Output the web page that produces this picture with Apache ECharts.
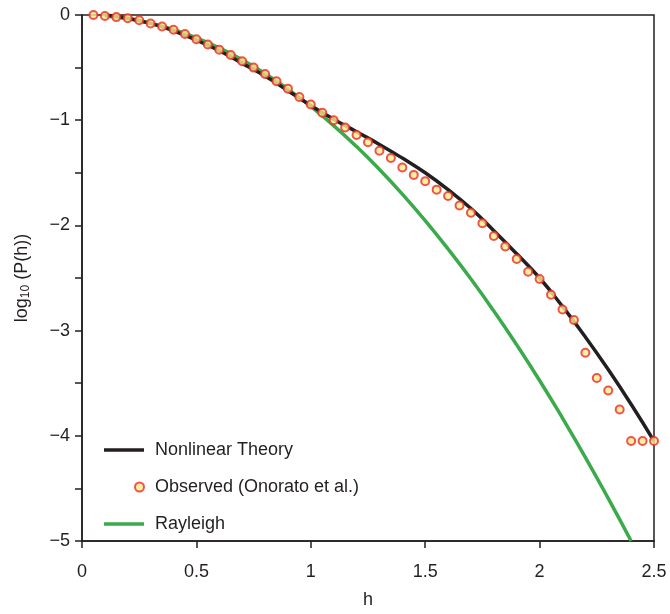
<!DOCTYPE html>
<html><head><meta charset="utf-8">
<script src="https://cdn.jsdelivr.net/npm/echarts@6/dist/echarts.min.js"></script>
<style>html,body{margin:0;padding:0;background:#fff}#c{width:670px;height:614px}</style>
</head><body><div id="c"></div>
<script>
const obsH = [0.05,0.10,0.15,0.20,0.25,0.30,0.35,0.40,0.45,0.50,0.55,0.60,0.65,0.70,0.75,0.80,0.85,0.90,0.95,1.00,1.05,1.10,1.15,1.20,1.25,1.30,1.35,1.40,1.45,1.50,1.55,1.60,1.65,1.70,1.75,1.80,1.85,1.90,1.95,2.00,2.05,2.10,2.15,2.20,2.25,2.30,2.35,2.40,2.45,2.50];
const obsLog = [0,-0.01,-0.02,-0.03,-0.05,-0.08,-0.11,-0.14,-0.18,-0.23,-0.28,-0.33,-0.38,-0.44,-0.50,-0.56,-0.63,-0.70,-0.78,-0.85,-0.93,-1.00,-1.07,-1.14,-1.21,-1.29,-1.36,-1.45,-1.52,-1.58,-1.66,-1.72,-1.81,-1.88,-1.98,-2.10,-2.20,-2.32,-2.44,-2.51,-2.66,-2.80,-2.90,-3.21,-3.45,-3.57,-3.75,-4.05,-4.05,-4.05];
const lineH = [0.1,0.2,0.3,0.4,0.5,0.6,0.7,0.8,0.9,1.0,1.1,1.2,1.3,1.4,1.5,1.6,1.7,1.8,1.9,2.0,2.1,2.2,2.3,2.4,2.5];
const nonlinear = [0,-0.03,-0.08,-0.15,-0.24,-0.34,-0.46,-0.58,-0.72,-0.86,-0.99,-1.11,-1.23,-1.36,-1.50,-1.66,-1.84,-2.05,-2.27,-2.50,-2.77,-3.06,-3.37,-3.70,-4.05];
const rayleighH = [0.1,0.2,0.3,0.4,0.5,0.6,0.7,0.8,0.9,1.0,1.1,1.2,1.3,1.4,1.5,1.6,1.7,1.8,1.9,2.0,2.1,2.2,2.3,2.4];
const rayleigh = [-0.009,-0.035,-0.078,-0.139,-0.217,-0.313,-0.426,-0.556,-0.704,-0.869,-1.051,-1.251,-1.468,-1.702,-1.954,-2.224,-2.510,-2.814,-3.136,-3.474,-3.831,-4.204,-4.595,-5.0];
const zip=(a,b)=>a.map((v,i)=>[v,b[i]]);
const FF='Liberation Sans, Arial';
const ax={color:'#231f20',fontSize:18,fontFamily:FF};
const lineIcon='path://M0,0L0.01,0M0,15L0.01,15M0,5.8H40V9.2H0Z';
const dotIcon='path://M0,0L0.01,0M0,15L0.01,15M31,7.5a4.5,4.5 0 1,0 9,0a4.5,4.5 0 1,0 -9,0Z';
const chart=echarts.init(document.getElementById('c'));
chart.setOption({
  animation:false,
  grid:{left:82,right:16,top:15,bottom:67,show:true,borderColor:'#231f20',borderWidth:1.5},
  xAxis:{type:'value',min:0,max:2.5,interval:0.5,name:'h',nameLocation:'middle',nameGap:50,nameTextStyle:ax,
    axisLine:{onZero:false,lineStyle:{color:'#231f20',width:1.5}},axisTick:{length:7,lineStyle:{width:1.5}},
    axisLabel:Object.assign({margin:22,formatter:v=>v===0?'0':String(v)},ax),splitLine:{show:false}},
  yAxis:{type:'value',min:-5,max:0,interval:1,name:'log{s|10} (P(h))',nameLocation:'middle',nameGap:50,
    nameTextStyle:Object.assign({rich:{s:{fontSize:12,fontFamily:FF,color:'#231f20',padding:[8,0,0,0]}}},ax),
    axisLine:{onZero:false,lineStyle:{color:'#231f20',width:1.5}},axisTick:{length:7,lineStyle:{width:1.5}},
    minorTick:{show:true,splitNumber:2,length:7,lineStyle:{color:'#231f20',width:1.5}},
    axisLabel:Object.assign({margin:12,formatter:v=>v<0?'\u2212'+Math.abs(v):'0'},ax),splitLine:{show:false}},
  legend:{orient:'vertical',left:98,top:436,itemGap:19,itemWidth:40,itemHeight:15,
    textStyle:{fontSize:18,color:'#231f20',fontFamily:FF,padding:[0,0,0,6]},
    data:[{name:'Nonlinear Theory',icon:lineIcon},{name:'Observed (Onorato et al.)',icon:dotIcon},{name:'Rayleigh',icon:lineIcon}]},
  series:[
    {name:'Rayleigh',type:'line',data:zip(rayleighH,rayleigh),showSymbol:false,smooth:true,lineStyle:{color:'#3aaa4a',width:3.5},itemStyle:{color:'#3aaa4a'},z:2},
    {name:'Nonlinear Theory',type:'line',data:zip(lineH,nonlinear),showSymbol:false,smooth:true,lineStyle:{color:'#231f20',width:3.5},itemStyle:{color:'#231f20'},z:3},
    {name:'Observed (Onorato et al.)',type:'scatter',data:zip(obsH,obsLog),symbol:'circle',symbolSize:8,
      itemStyle:{color:'#fdeb8d',borderColor:'#ee2a24',borderWidth:2},z:4}
  ]
});
</script></body></html>
